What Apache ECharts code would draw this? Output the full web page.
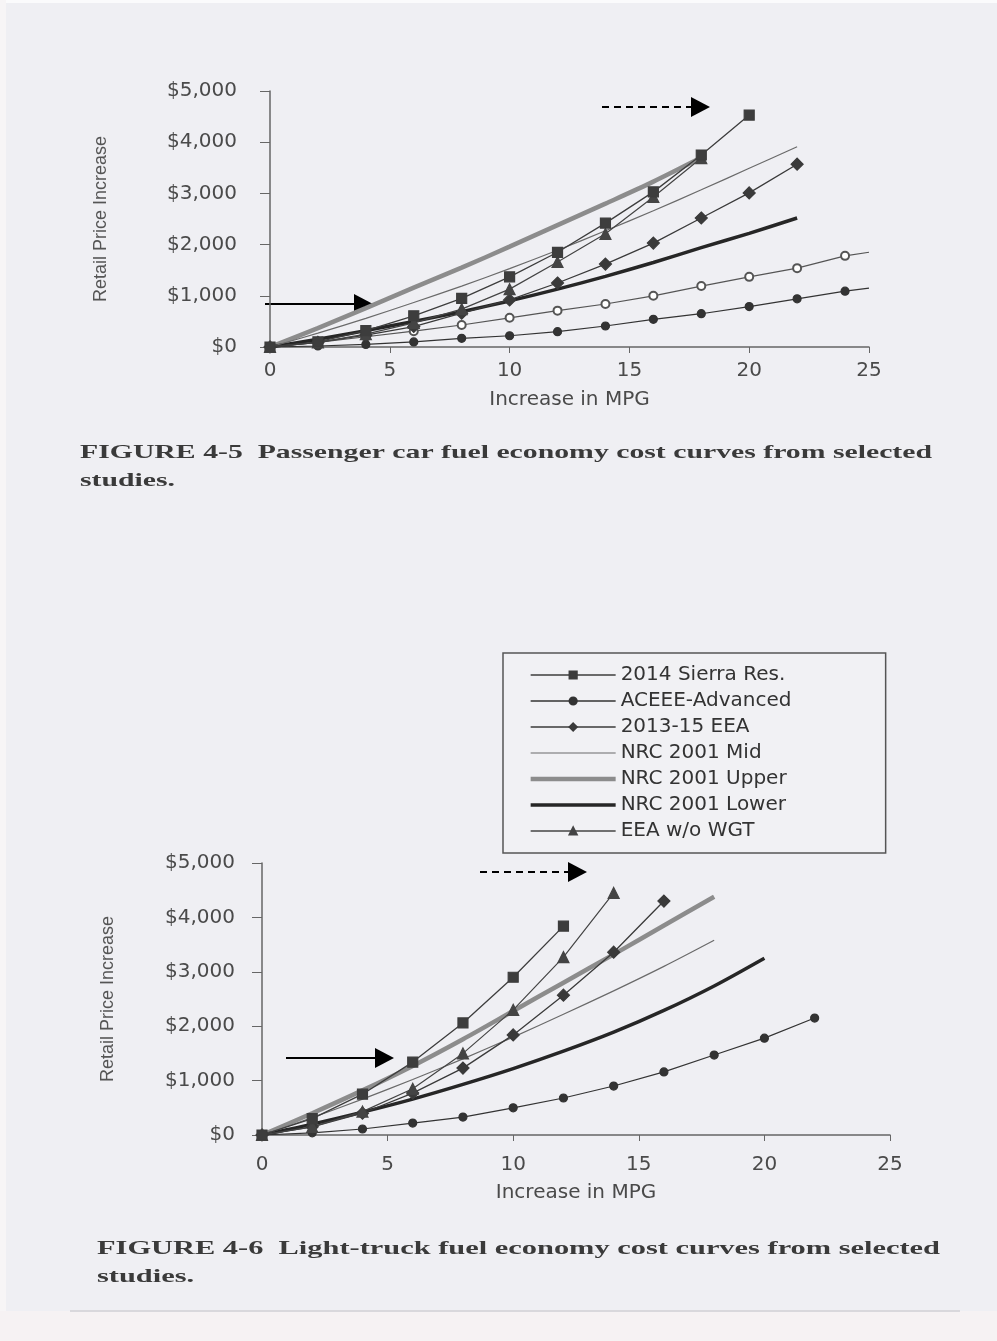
<!DOCTYPE html>
<html>
<head>
<meta charset="utf-8">
<title>Fuel economy cost curves</title>
<script src="https://cdn.jsdelivr.net/npm/echarts@6/dist/echarts.min.js"></script>
<style>
html, body { margin: 0; padding: 0; background: #efeff3; }
#main { width: 997px; height: 1341px; }
</style>
</head>
<body>
<div id="main"></div>
<script>
// ---- data: FIGURE 4-5 passenger cars (mpg increase -> retail price increase, $) ----
var carSierraMpg = [0, 2, 4, 6, 8, 10, 12, 14, 16, 18, 20];
var carSierraCost = [0, 100, 320, 610, 950, 1370, 1850, 2420, 3030, 3750, 4530];
var carAceeeAdvMpg = [0, 2, 4, 6, 8, 10, 12, 14, 16, 18, 20, 22, 24, 25];
var carAceeeAdvCost = [0, 20, 50, 100, 170, 220, 300, 410, 540, 650, 790, 940, 1090, 1150];
var carAceeeModMpg = [0, 2, 4, 6, 8, 10, 12, 14, 16, 18, 20, 22, 24, 25];
var carAceeeModCost = [0, 90, 200, 310, 430, 570, 710, 840, 1000, 1190, 1370, 1540, 1780, 1850];
var carEeaMpg = [0, 2, 4, 6, 8, 10, 12, 14, 16, 18, 20, 22];
var carEeaCost = [0, 90, 230, 400, 660, 920, 1250, 1620, 2030, 2520, 3010, 3570];
var carMidMpg = [0, 2, 4, 6, 8, 10, 12, 14, 16, 18, 20, 22];
var carMidCost = [0, 270, 560, 870, 1190, 1530, 1890, 2270, 2660, 3070, 3490, 3910];
var carUpperMpg = [0, 2, 4, 6, 8, 10, 12, 14, 16, 18];
var carUpperCost = [0, 370, 760, 1160, 1550, 1960, 2380, 2800, 3230, 3700];
var carLowerMpg = [0, 2, 4, 6, 8, 10, 12, 14, 16, 18, 20, 22];
var carLowerCost = [0, 150, 320, 500, 690, 900, 1130, 1380, 1650, 1940, 2220, 2520];
var carEeaNoWgtMpg = [0, 2, 4, 6, 8, 10, 12, 14, 16, 18];
var carEeaNoWgtCost = [0, 90, 250, 470, 740, 1130, 1660, 2210, 2930, 3690];

// ---- data: FIGURE 4-6 light trucks ----
var truckSierraMpg = [0, 2, 4, 6, 8, 10, 12];
var truckSierraCost = [0, 300, 750, 1340, 2060, 2900, 3840];
var truckAceeeAdvMpg = [0, 2, 4, 6, 8, 10, 12, 14, 16, 18, 20, 22];
var truckAceeeAdvCost = [0, 40, 110, 220, 330, 500, 680, 900, 1160, 1470, 1780, 2150];
var truckEeaMpg = [0, 2, 4, 6, 8, 10, 12, 14, 16];
var truckEeaCost = [0, 150, 400, 770, 1230, 1840, 2570, 3360, 4300];
var truckMidMpg = [0, 2, 4, 6, 8, 10, 12, 14, 16, 18];
var truckMidCost = [0, 320, 660, 1020, 1400, 1800, 2220, 2650, 3100, 3580];
var truckUpperMpg = [0, 2, 4, 6, 8, 10, 12, 14, 16, 18];
var truckUpperCost = [0, 400, 820, 1270, 1760, 2280, 2800, 3320, 3850, 4380];
var truckLowerMpg = [0, 2, 4, 6, 8, 10, 12, 14, 16, 18, 20];
var truckLowerCost = [0, 200, 420, 660, 930, 1220, 1540, 1890, 2290, 2740, 3250];
var truckEeaNoWgtMpg = [0, 2, 4, 6, 8, 10, 12, 14];
var truckEeaNoWgtCost = [0, 150, 430, 850, 1500, 2300, 3270, 4450];

// axis ticks
var mpgTicks = [0, 5, 10, 15, 20, 25];
var costTicks = [0, 1000, 2000, 3000, 4000, 5000];

var legendNames = ['2014 Sierra Res.', 'ACEEE-Advanced', '2013-15 EEA', 'NRC 2001 Mid',
	'NRC 2001 Upper', 'NRC 2001 Lower', 'EEA w/o WGT'];

var captionTop = ['FIGURE 4-5  Passenger car fuel economy cost curves from selected', 'studies.'];
var captionBottom = ['FIGURE 4-6  Light-truck fuel economy cost curves from selected', 'studies.'];

// ---- look of each study ----
var looks = {
	'2014 Sierra Res.': { symbol: 'rect', size: 10, color: '#3d3d3d', width: 1.3 },
	'ACEEE-Advanced': { symbol: 'circle', size: 8, color: '#333', width: 1.2 },
	'ACEEE-Moderate': { symbol: 'emptyCircle', size: 8, color: '#555', width: 1.2 },
	'2013-15 EEA': { symbol: 'diamond', size: 12, color: '#3a3a3a', width: 1.3 },
	'NRC 2001 Mid': { symbol: 'none', size: 0, color: '#6a6a6a', width: 1.2, smooth: true },
	'NRC 2001 Upper': { symbol: 'none', size: 0, color: '#8c8c8c', width: 4.5, smooth: true },
	'NRC 2001 Lower': { symbol: 'none', size: 0, color: '#262626', width: 3.5, smooth: true },
	'EEA w/o WGT': { symbol: 'triangle', size: 11, color: '#444', width: 1.2 }
};

function makeSeries(name, mpg, cost, axis) {
	var look = looks[name];
	var data = mpg.map(function(x, i) {
		// the end stub at 25 mpg carries no marker
		if(x % 2 !== 0) {
			return { value: [x, cost[i]], symbol: 'none' };
		}
		return [x, cost[i]];
	});
	return {
		type: 'line',
		name: name,
		xAxisIndex: axis,
		yAxisIndex: axis,
		data: data,
		smooth: look.smooth ? 0.3 : false,
		showSymbol: look.symbol !== 'none',
		symbol: look.symbol,
		symbolSize: look.size,
		lineStyle: { color: look.color, width: look.width },
		itemStyle: { color: look.color, borderColor: look.color, borderWidth: 1.2 },
		emphasis: { disabled: true },
		animation: false,
		z: look.symbol === 'none' ? 2 : 3
	};
}

// legend rows: plain bar for the NRC curves, line + marker for the others
function legendItems() {
	return legendNames.map(function(n) {
		var look = looks[n];
		var item = { name: n, lineStyle: { width: 1.3, color: look.color } };
		if(look.symbol === 'none') {
			// a flat path keeps its aspect, so it draws as a line of the curve's width
			item.icon = 'path://M0,0 H85 V' + look.width + ' H0 Z';
			item.itemStyle = { color: look.color, borderWidth: 0 };
		}
		return item;
	});
}

function mpgAxis(grid, margin, gap) {
	return {
		type: 'value', gridIndex: grid, min: 0, max: 25, interval: 5,
		name: 'Increase in MPG', nameLocation: 'middle', nameGap: gap,
		nameTextStyle: { fontFamily: 'DejaVu Sans', fontSize: 20, color: '#4a4a4a' },
		axisLine: { lineStyle: { color: '#666', width: 1.5 } },
		axisTick: { show: true, length: 6, lineStyle: { color: '#666' } },
		splitLine: { show: false },
		axisLabel: {
			margin: margin, fontFamily: 'DejaVu Sans', fontSize: 20, color: '#4a4a4a',
			formatter: function(v) { return mpgTicks.indexOf(v) > -1 ? String(v) : ''; }
		}
	};
}

function costAxis(grid, margin, gap) {
	return {
		type: 'value', gridIndex: grid, min: 0, max: 5000, interval: 1000,
		name: 'Retail Price Increase', nameLocation: 'middle', nameGap: gap, nameRotate: 90,
		nameTextStyle: { fontFamily: 'Liberation Sans', fontSize: 18, color: '#555' },
		axisLine: { show: true, lineStyle: { color: '#666', width: 1.5 } },
		axisTick: { show: true, length: 10, lineStyle: { color: '#666' } },
		splitLine: { show: false },
		axisLabel: {
			margin: margin, fontFamily: 'DejaVu Sans', fontSize: 20, color: '#4a4a4a',
			formatter: function(v) {
				if(costTicks.indexOf(v) < 0) return '';
				return '$' + v.toString().replace(/\B(?=(\d{3})+(?!\d))/g, ',');
			}
		}
	};
}

// arrow annotations drawn over the scan
function arrow(x1, x2, y, dashed) {
	return {
		type: 'group', z: 100,
		children: [
			{ type: 'line', shape: { x1: x1, y1: y, x2: x2 - 18, y2: y },
				style: { stroke: '#000', lineWidth: 2, lineDash: dashed ? [7, 5] : null } },
			{ type: 'polygon', shape: { points: [[x2 - 19, y - 10], [x2, y], [x2 - 19, y + 10]] },
				style: { fill: '#000' } }
		]
	};
}

// caption lines stretched like the scanned page
function caption(lines, x, y, right) {
	var font = 'bold 19px "Liberation Serif"';
	var ctx = document.createElement('canvas').getContext('2d');
	ctx.font = font;
	var scale = (right - x) / ctx.measureText(lines[0]).width;
	return lines.map(function(t, i) {
		return {
			type: 'text', x: x, y: y + i * 28, scaleX: scale, z: 50,
			style: { text: t, font: font, fill: '#3a3a3a', verticalAlign: 'middle', textVerticalAlign: 'middle' }
		};
	});
}

var charts = echarts.init(document.getElementById('main'), null, { renderer: 'canvas' });

var series = [
	makeSeries('NRC 2001 Upper', carUpperMpg, carUpperCost, 0),
	makeSeries('NRC 2001 Lower', carLowerMpg, carLowerCost, 0),
	makeSeries('NRC 2001 Mid', carMidMpg, carMidCost, 0),
	makeSeries('ACEEE-Moderate', carAceeeModMpg, carAceeeModCost, 0),
	makeSeries('ACEEE-Advanced', carAceeeAdvMpg, carAceeeAdvCost, 0),
	makeSeries('2013-15 EEA', carEeaMpg, carEeaCost, 0),
	makeSeries('EEA w/o WGT', carEeaNoWgtMpg, carEeaNoWgtCost, 0),
	makeSeries('2014 Sierra Res.', carSierraMpg, carSierraCost, 0),

	makeSeries('NRC 2001 Upper', truckUpperMpg, truckUpperCost, 1),
	makeSeries('NRC 2001 Lower', truckLowerMpg, truckLowerCost, 1),
	makeSeries('NRC 2001 Mid', truckMidMpg, truckMidCost, 1),
	makeSeries('ACEEE-Advanced', truckAceeeAdvMpg, truckAceeeAdvCost, 1),
	makeSeries('2013-15 EEA', truckEeaMpg, truckEeaCost, 1),
	makeSeries('EEA w/o WGT', truckEeaNoWgtMpg, truckEeaNoWgtCost, 1),
	makeSeries('2014 Sierra Res.', truckSierraMpg, truckSierraCost, 1)
];

var graphics = [
	{ type: 'rect', z: -1, shape: { x: 0, y: 0, width: 997, height: 3 }, style: { fill: '#fbfbfc' } },
	{ type: 'rect', z: -1, shape: { x: 0, y: 0, width: 6, height: 1341 }, style: { fill: '#f7f5f6' } },
	{ type: 'rect', z: -1, shape: { x: 0, y: 1311, width: 997, height: 30 }, style: { fill: '#f6f2f3' } },
	{ type: 'line', z: -1, shape: { x1: 70, y1: 1311, x2: 960, y2: 1311 }, style: { stroke: '#d9d8dc', lineWidth: 2 } },
	arrow(265, 373, 304, false),
	arrow(602, 710, 107, true),
	arrow(286, 394, 1058, false),
	arrow(480, 587, 872, true)
].concat(caption(captionTop, 80, 453, 932)).concat(caption(captionBottom, 97, 1249, 940));

charts.setOption({
	backgroundColor: '#efeff3',
	animation: false,
	grid: [
		{ left: 270, top: 91, width: 599, height: 256 },
		{ left: 262, top: 863, width: 628, height: 272 }
	],
	xAxis: [mpgAxis(0, 14, 43), mpgAxis(1, 20, 48)],
	yAxis: [costAxis(0, 33, 160), costAxis(1, 27, 145)],
	legend: {
		data: legendItems(),
		orient: 'vertical',
		left: 503, top: 653,
		padding: [12, 20, 12, 27],
		itemWidth: 85, itemHeight: 9, itemGap: 6,
		symbolKeepAspect: true,
		borderColor: '#555', borderWidth: 1.5,
		backgroundColor: '#f1f1f4',
		selectedMode: false,
		textStyle: { fontFamily: 'DejaVu Sans', fontSize: 20, lineHeight: 20, color: '#333', width: 245 }
	},
	graphic: graphics,
	series: series
});
</script>
</body>
</html>
